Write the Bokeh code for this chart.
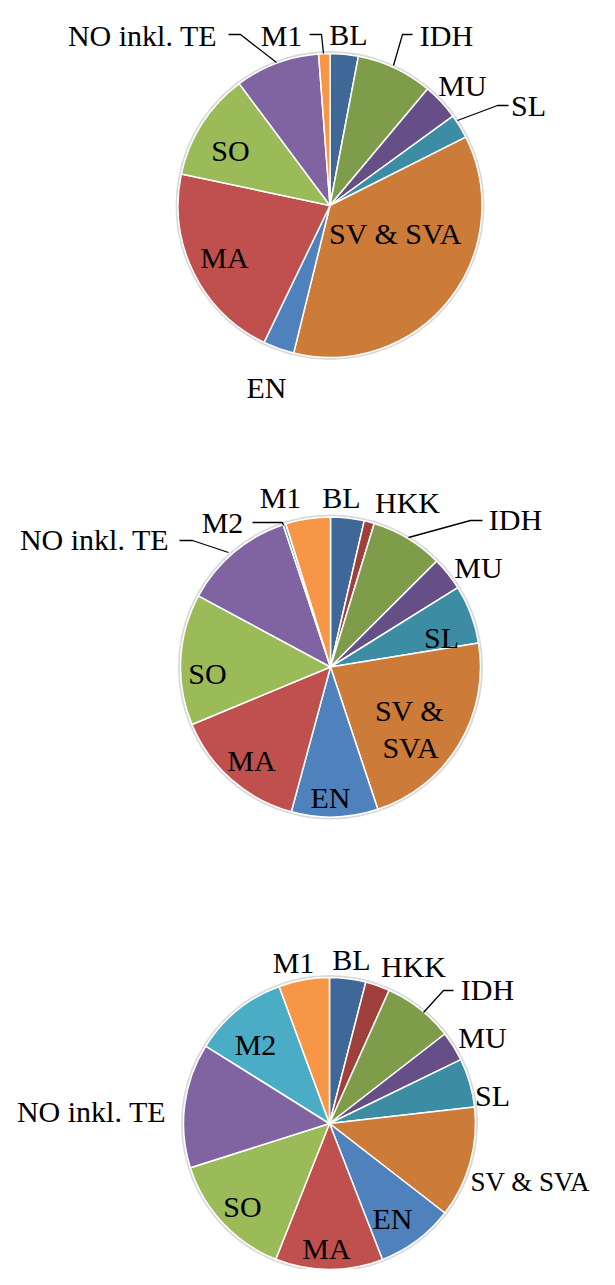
import math
from bokeh.plotting import figure
from bokeh.models import Range1d, ColumnDataSource
from bokeh.core.properties import value
from bokeh.embed import file_html
from bokeh.resources import INLINE

# ---------------- data (shares in percent, clockwise from 12 o'clock) ----------------
cats1 = ["BL", "IDH", "MU", "SL", "SV & SVA", "EN", "MA", "SO", "NO inkl. TE", "M1"]
vals1 = [3.0, 8.1, 3.9, 2.6, 36.3, 3.3, 21.2, 11.5, 9.0, 1.2]

cats2 = ["BL", "HKK", "IDH", "MU", "SL", "SV & SVA", "EN", "MA", "SO", "NO inkl. TE", "M2", "M1"]
vals2 = [3.6, 1.1, 7.8, 3.6, 6.3, 22.4, 9.3, 14.5, 14.1, 12.0, 0.3, 4.8]

cats3 = ["BL", "HKK", "IDH", "MU", "SL", "SV & SVA", "EN", "MA", "SO", "NO inkl. TE", "M2", "M1"]
vals3 = [4.0, 2.7, 7.8, 3.3, 5.4, 12.3, 8.6, 11.9, 14.1, 13.8, 10.5, 5.6]

# ---------------- styles ----------------
COLORS = {
    "BL": "#3F6898", "HKK": "#A0403D", "IDH": "#7F9C4A", "MU": "#664F87",
    "SL": "#3C8DA3", "SV & SVA": "#CC7B38", "EN": "#4F81BD", "MA": "#C0504D",
    "SO": "#9BBB59", "NO inkl. TE": "#8064A2", "M2": "#4BACC6", "M1": "#F79646",
}
FONT = value("Liberation Serif")
FSIZE = "30px"

# pie layout: (center x, center y, radius) in page pixels
PIES = [
    (cats1, vals1, (329.5, 205, 152)),
    (cats2, vals2, (330, 666.5, 150)),
    (cats3, vals3, (329, 1123, 146)),
]

# label layout: text -> (x, baseline y, align, size) in page pixels, per pie
LABELS = [
    {"NO inkl. TE": (142, 35), "M1": (281, 35), "BL": (348, 34), "IDH": (446, 35),
     "MU": (462, 85), "SL": (528, 105), "SV & SVA": (395, 233), "MA": (224, 257),
     "SO": (230, 150), "EN": (266, 387)},
    {"NO inkl. TE": (94, 539), "M2": (222, 522), "M1": (280, 497), "BL": (341, 497),
     "HKK": (407, 502), "IDH": (515, 519), "MU": (478, 567), "SL": (441, 637),
     "SV &": (409, 710), "SVA": (410, 747), "EN": (330, 797), "MA": (251, 760),
     "SO": (207, 673)},
    {"NO inkl. TE": (91, 1111), "M2": (255, 1044), "M1": (293, 962), "BL": (351, 959),
     "HKK": (413, 966), "IDH": (487, 989), "MU": (482, 1037), "SL": (492, 1095),
     "EN": (392, 1218), "MA": (326, 1248), "SO": (242, 1206)},
]
# a label that has to be set a little smaller to stay inside the page
EXTRA = [("SV & SVA", 470, 1181, "left", "27px")]

# leader lines (page pixels)
LEADERS = [
    [[(228, 34), (240, 34), (276, 62)],
     [(309, 34), (321, 34), (323, 53)],
     [(412, 34), (402, 34), (393, 65)],
     [(508, 105), (497, 105), (457, 120)]],
    [[(179, 540), (192, 540), (228, 552)],
     [(252, 522), (282, 522), (283, 525)],
     [(482, 520), (470, 520), (408, 537)]],
    [[(453, 990), (443, 990), (423, 1012)]],
]

W, H = 599, 1269
p = figure(width=W, height=H, output_backend="svg", toolbar_location=None,
           x_range=Range1d(0, W), y_range=Range1d(-H, 0),
           min_border=0, outline_line_color=None)
p.axis.visible = False
p.grid.visible = False
p.background_fill_color = "white"
p.border_fill_color = "white"

for (cats, vals, (cx, cy, r)) in PIES:
    total = sum(vals)
    starts, ends = [], []
    cum = 0.0
    for v in vals:
        starts.append(math.pi / 2 - 2 * math.pi * cum / total)
        cum += v
        ends.append(math.pi / 2 - 2 * math.pi * cum / total)
    src = ColumnDataSource(dict(
        x=[cx] * len(vals), y=[-cy] * len(vals),
        start=starts, end=ends, color=[COLORS[c] for c in cats], cat=cats))
    # faint shadow ring
    p.circle(x=cx, y=-cy, radius=r + 1.5, fill_color=None,
             line_color="#d9d9d9", line_width=2)
    p.wedge(x="x", y="y", radius=r, start_angle="start", end_angle="end",
            direction="clock", fill_color="color", line_color="white",
            line_width=1.5, source=src)

for leaders in LEADERS:
    for pts in leaders:
        p.line(x=[a for a, b in pts], y=[-b for a, b in pts],
               line_color="black", line_width=1.3)

for lab in LABELS:
    p.text(x=[v[0] for v in lab.values()], y=[-v[1] for v in lab.values()],
           text=list(lab.keys()), text_font=FONT, text_font_size=FSIZE,
           text_align="center", text_baseline="alphabetic", text_color="black")

for (t, x, y, al, sz) in EXTRA:
    p.text(x=[x], y=[-y], text=[t], text_font=FONT, text_font_size=sz,
           text_align=al, text_baseline="alphabetic", text_color="black")

open("out.html", "w").write(file_html(p, INLINE))
